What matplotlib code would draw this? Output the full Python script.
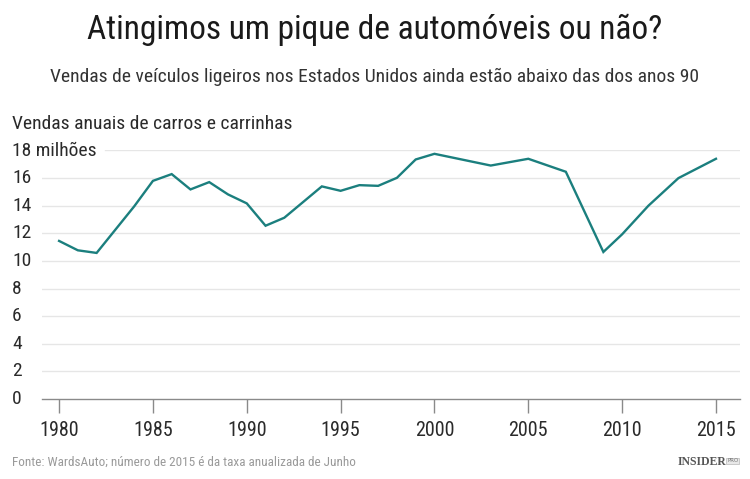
import matplotlib
matplotlib.use("Agg")
import matplotlib.pyplot as plt

# ---- data ----
years = [1980, 1981, 1982, 1984, 1985, 1986, 1987, 1988, 1989, 1990, 1991, 1992,
         1994, 1995, 1996, 1997, 1998, 1999, 2000, 2003, 2005, 2007, 2009, 2010,
         2011.4, 2013, 2015]
sales = [11.45, 10.77, 10.58, 13.95, 15.8, 16.29, 15.18, 15.71, 14.82, 14.17, 12.55, 13.13,
         15.4, 15.08, 15.49, 15.44, 16.02, 17.35, 17.76, 16.91, 17.4, 16.46, 10.65, 11.93,
         14.0, 16.0, 17.4]
xticks = [1980, 1985, 1990, 1995, 2000, 2005, 2010, 2015]
yticks = [0, 2, 4, 6, 8, 10, 12, 14, 16, 18]
ytick_labels = ["0", "2", "4", "6", "8", "10", "12", "14", "16", "18 milhões"]

title = "Atingimos um pique de automóveis ou não?"
subtitle = "Vendas de veículos ligeiros nos Estados Unidos ainda estão abaixo das dos anos 90"
ylabel = "Vendas anuais de carros e carrinhas"
source = "Fonte: WardsAuto; número de 2015 é da taxa anualizada de Junho"

FONT = ["Roboto Condensed", "PT Sans Narrow", "DejaVu Sans"]
plt.rcParams["font.family"] = FONT

W, H = 750, 479
fig = plt.figure(figsize=(W / 100, H / 100), dpi=100)
fig.patch.set_facecolor("white")

def fx(px):
    return px / W

def fy(py):
    return 1 - py / H

ax = fig.add_axes([fx(42), fy(399), fx(740) - fx(42), fy(150.5) - fy(399)])
ax.set_facecolor("white")
ax.set_xlim(1979.09, 2016.28)
ax.set_ylim(0, 18)

# gridlines
for v in yticks[1:]:
    x0 = 0.0 if v != 18 else (105 - 42) / (740 - 42)
    ax.axhline(v, xmin=x0, xmax=1, color="#e6e6e6", lw=1.0, zorder=1)

ax.plot(years, sales, color="#1b7f7e", lw=1.7, solid_joinstyle="miter", zorder=3)

for s in ["top", "right", "left"]:
    ax.spines[s].set_visible(False)
ax.spines["bottom"].set_color("#8a8a8a")
ax.spines["bottom"].set_linewidth(1.0)

ax.set_xticks(xticks)
ax.set_xticklabels([str(t) for t in xticks], fontsize=14.5, color="#2a2a2a")
ax.tick_params(axis="x", length=10, width=1.0, color="#8a8a8a", pad=6)
ax.set_yticks([])

# y tick labels, left aligned at figure x=12
for v, lab in zip(yticks, ytick_labels):
    fig.text(fx(12), ax.transData.transform((0, v))[1] / H, lab,
             ha="left", va="center", fontsize=14, color="#2a2a2a")

fig.text(0.5, fy(30), title, ha="center", va="center", fontsize=24, color="#1a1a1a")
fig.text(0.5, fy(77), subtitle, ha="center", va="center", fontsize=14, color="#333333")
fig.text(fx(12), fy(124), ylabel, ha="left", va="center", fontsize=14, color="#2a2a2a")
fig.text(fx(12), fy(462), source, ha="left", va="center", fontsize=9.5, color="#9a9a9a")

fig.text(fx(726), fy(462), "INSIDER", ha="right", va="center", fontsize=8.5,
         fontweight="bold", family=["Liberation Serif", "DejaVu Serif"], color="#555555")
fig.text(fx(727), fy(461), "PRO", ha="left", va="center", fontsize=4,
         family=["DejaVu Sans"], color="#777777",
         bbox=dict(boxstyle="square,pad=0.15", fc="#e8e8e8", ec="#aaaaaa", lw=0.4))

fig.savefig("out.png", dpi=100, facecolor="white")
